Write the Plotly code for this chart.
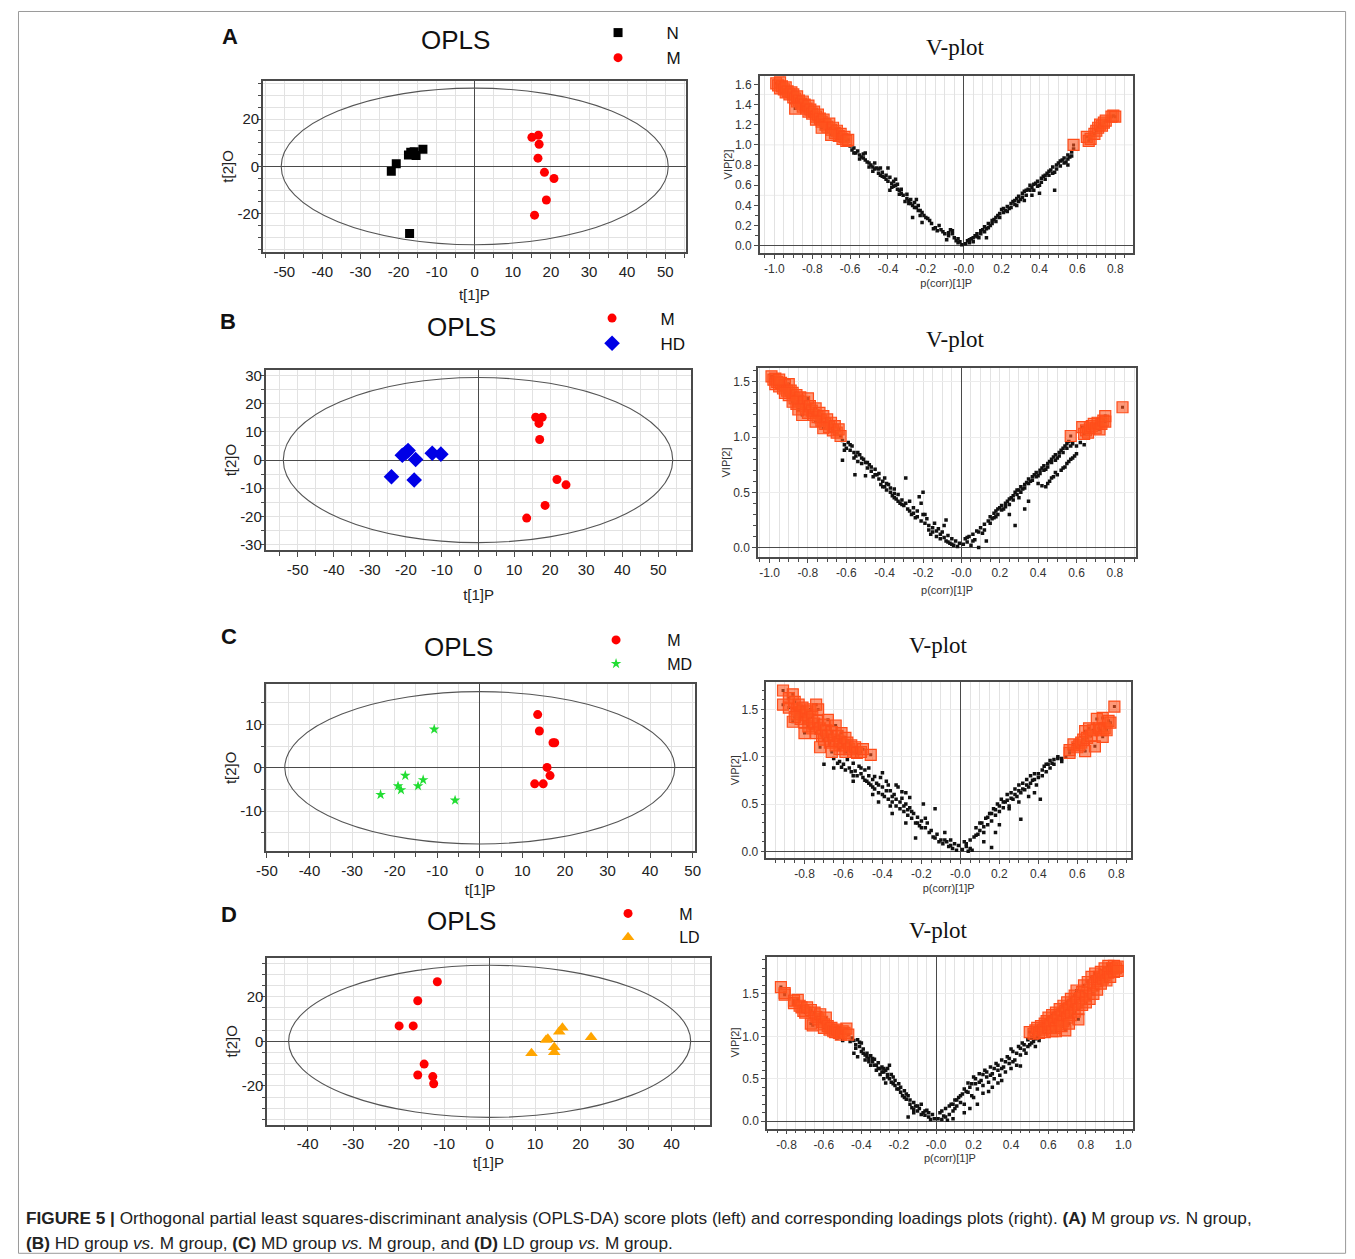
import plotly.graph_objects as go

W, H = 1355, 1259

# ---------------- Score plot data (OPLS) ----------------
A_N_x = [-21.9, -20.6, -17.4, -16.8, -15.9, -15.4, -13.6, -17.1]
A_N_y = [-2.0, 1.1, 4.8, 6.0, 6.2, 4.6, 7.3, -28.4]
A_M_x = [15.0, 16.7, 16.9, 16.6, 18.3, 20.8, 18.8, 15.7]
A_M_y = [12.3, 13.2, 9.4, 3.5, -2.5, -5.1, -14.2, -20.6]

B_M_x = [16.0, 17.8, 16.9, 17.1, 21.9, 24.4, 18.6, 13.5]
B_M_y = [15.2, 15.2, 13.0, 7.3, -6.9, -8.8, -16.1, -20.6]
B_HD_x = [-24.0, -21.0, -20.0, -19.4, -17.3, -17.7, -12.7, -10.3]
B_HD_y = [-5.9, 1.7, 2.6, 3.4, 0.2, -7.1, 2.4, 2.1]

C_M_x = [13.6, 14.0, 17.2, 17.6, 15.8, 16.5, 12.9, 14.9]
C_M_y = [12.3, 8.5, 5.8, 5.8, 0.1, -1.8, -3.7, -3.7]
C_MD_x = [-23.3, -19.2, -18.5, -17.5, -14.5, -13.3, -10.7, -5.8]
C_MD_y = [-6.2, -4.2, -5.1, -1.8, -4.2, -2.8, 8.9, -7.5]

D_M_x = [-19.9, -16.8, -15.8, -11.5, -14.4, -15.8, -12.5, -12.3]
D_M_y = [6.9, 6.9, 18.2, 26.7, -10.2, -15.1, -15.8, -19.0]
D_LD_x = [9.2, 12.4, 12.8, 14.2, 14.2, 15.3, 16.0, 22.3]
D_LD_y = [-5.4, 0.6, 1.2, -2.7, -4.9, 4.3, 6.1, 1.8]

# Hotelling T2 ellipse half-axes (t[1], t[2])
ELLIPSE_A = [50.8, 33.1]
ELLIPSE_B = [54.0, 29.3]
ELLIPSE_C = [45.8, 17.6]
ELLIPSE_D = [44.2, 34.1]

# ---------------- V-plot data: (p(corr)[1]P, VIP[2]) ----------------
VA_SEL = [(-0.99,1.61),(-0.98,1.59),(-0.97,1.62),(-0.97,1.56),(-0.96,1.58),(-0.95,1.55),(-0.94,1.52),
          (-0.94,1.57),(-0.93,1.53),(-0.92,1.50),(-0.91,1.52),(-0.90,1.47),(-0.90,1.50),(-0.89,1.46),
          (-0.88,1.43),(-0.88,1.48),(-0.87,1.44),(-0.86,1.41),(-0.85,1.43),(-0.85,1.38),(-0.84,1.40),
          (-0.83,1.36),(-0.82,1.39),(-0.82,1.33),(-0.81,1.35),(-0.80,1.31),(-0.79,1.33),(-0.78,1.28),
          (-0.78,1.25),(-0.77,1.30),(-0.76,1.26),(-0.75,1.23),(-0.74,1.25),(-0.73,1.20),(-0.72,1.18),
          (-0.71,1.21),(-0.70,1.15),(-0.69,1.17),(-0.68,1.12),(-0.67,1.14),(-0.66,1.09),(-0.65,1.11),
          (-0.64,1.06),(-0.63,1.08),(-0.62,1.04),(-0.61,1.05),(-0.89,1.36),(-0.75,1.17),(-0.70,1.10),
          (0.58,1.00),(0.65,1.08),(0.66,1.04),(0.67,1.06),(0.69,1.11),(0.70,1.14),(0.71,1.17),
          (0.72,1.20),(0.73,1.19),(0.74,1.22),(0.75,1.24),(0.78,1.28),(0.79,1.29),(0.80,1.28)]
VA_REST = [(-0.60,0.99),(-0.59,0.95),(-0.58,0.97),(-0.57,0.92),(-0.56,0.94),(-0.55,0.90),(-0.54,0.88),
           (-0.53,0.91),(-0.52,0.85),(-0.51,0.83),(-0.50,0.82),(-0.49,0.80),(-0.48,0.78),(-0.47,0.76),
           (-0.46,0.77),(-0.45,0.72),(-0.44,0.70),(-0.43,0.73),(-0.42,0.68),(-0.41,0.66),(-0.40,0.64),
           (-0.39,0.68),(-0.38,0.62),(-0.37,0.59),(-0.36,0.60),(-0.35,0.56),(-0.34,0.55),(-0.33,0.52),
           (-0.32,0.50),(-0.30,0.47),(-0.29,0.45),(-0.28,0.42),(-0.27,0.40),(-0.26,0.43),(-0.25,0.38),
           (-0.24,0.35),(-0.23,0.30),(-0.22,0.33),(-0.20,0.28),(-0.18,0.25),(-0.15,0.18),(-0.13,0.20),
           (-0.12,0.16),(-0.10,0.12),(-0.08,0.10),(-0.06,0.15),(-0.05,0.08),(-0.04,0.05),(-0.03,0.03),
           (-0.02,0.04),(-0.01,0.01),(-0.40,0.77),(-0.39,0.55),(-0.25,0.46),(-0.27,0.28),(-0.22,0.23),
           (-0.17,0.22),(-0.16,0.17),(-0.07,0.16),(-0.08,0.13),(-0.44,0.77),(-0.36,0.66),(-0.31,0.44),
           (-0.52,0.92),(-0.47,0.82),
           (0.01,0.02),(0.02,0.05),(0.03,0.03),(0.04,0.07),(0.05,0.04),(0.06,0.10),(0.07,0.12),(0.08,0.08),
           (0.09,0.15),(0.10,0.16),(0.11,0.19),(0.12,0.17),(0.13,0.22),(0.14,0.20),(0.15,0.25),(0.16,0.26),
           (0.17,0.24),(0.18,0.30),(0.19,0.32),(0.20,0.36),(0.21,0.33),(0.22,0.35),(0.23,0.39),(0.24,0.37),
           (0.25,0.42),(0.26,0.44),(0.27,0.41),(0.28,0.47),(0.29,0.49),(0.30,0.46),(0.31,0.52),(0.32,0.54),
           (0.33,0.50),(0.34,0.56),(0.35,0.60),(0.36,0.58),(0.37,0.55),(0.38,0.62),(0.39,0.64),(0.40,0.60),
           (0.41,0.67),(0.42,0.69),(0.43,0.66),(0.44,0.72),(0.45,0.70),(0.46,0.75),(0.47,0.78),(0.48,0.73),
           (0.49,0.80),(0.50,0.82),(0.51,0.79),(0.52,0.85),(0.53,0.87),(0.54,0.83),(0.55,0.90),(0.56,0.88),
           (0.57,0.93),(0.58,0.96),(0.12,0.08),(0.32,0.45),(0.48,0.55),(0.40,0.52),(0.28,0.40),(0.55,0.80),
           (0.36,0.50)]
VA_REST2 = [(-0.58,0.92),(-0.55,0.86),(-0.53,0.87),(-0.50,0.78),(-0.48,0.74),(-0.45,0.76),(-0.43,0.69),
            (-0.41,0.70),(-0.38,0.58),(-0.37,0.64),(-0.35,0.61),(-0.34,0.51),(-0.33,0.56),(-0.30,0.51),
            (-0.29,0.42),(-0.28,0.46),(-0.26,0.38),(-0.24,0.40),(-0.23,0.35),(-0.21,0.30),(-0.19,0.27),
            (-0.14,0.15),(-0.11,0.14),(-0.09,0.06),(-0.06,0.12),(-0.03,0.07),
            (0.03,0.06),(0.05,0.08),(0.07,0.09),(0.09,0.12),(0.11,0.14),(0.13,0.18),(0.15,0.22),(0.17,0.28),
            (0.19,0.28),(0.21,0.37),(0.23,0.34),(0.25,0.38),(0.27,0.45),(0.29,0.44),(0.31,0.48),(0.33,0.55),
            (0.35,0.55),(0.37,0.61),(0.39,0.59),(0.41,0.63),(0.43,0.70),(0.45,0.74),(0.47,0.72),(0.49,0.76),
            (0.51,0.84),(0.53,0.82),(0.55,0.86),(0.57,0.89)]

VB_SEL = [(-0.99,1.55),(-0.98,1.52),(-0.97,1.53),(-0.97,1.48),(-0.96,1.50),(-0.95,1.46),(-0.94,1.49),
          (-0.93,1.44),(-0.92,1.47),(-0.91,1.42),(-0.90,1.48),(-0.90,1.38),(-0.89,1.42),(-0.88,1.40),
          (-0.87,1.35),(-0.86,1.38),(-0.86,1.30),(-0.85,1.33),(-0.84,1.36),(-0.83,1.28),(-0.82,1.32),
          (-0.81,1.25),(-0.80,1.35),(-0.80,1.22),(-0.79,1.28),(-0.78,1.24),(-0.77,1.20),(-0.76,1.26),
          (-0.75,1.18),(-0.74,1.22),(-0.73,1.15),(-0.72,1.19),(-0.71,1.12),(-0.70,1.16),(-0.69,1.09),
          (-0.68,1.13),(-0.67,1.06),(-0.66,1.10),(-0.65,1.04),(-0.64,1.07),(-0.63,1.01),(-0.88,1.32),
          (-0.92,1.40),(-0.83,1.20),(-0.76,1.14),(-0.72,1.08),(-0.95,1.52),(-0.85,1.25),
          (0.57,1.01),(0.63,1.09),(0.64,1.03),(0.65,1.06),(0.66,1.04),(0.67,1.08),(0.68,1.10),(0.69,1.12),
          (0.70,1.08),(0.71,1.13),(0.72,1.07),(0.73,1.12),(0.74,1.15),(0.75,1.19),(0.75,1.14),(0.84,1.27)]
VB_REST = [(-0.62,0.97),(-0.61,0.93),(-0.60,0.90),(-0.59,0.95),(-0.58,0.88),(-0.57,0.92),(-0.56,0.86),
           (-0.55,0.83),(-0.54,0.78),(-0.53,0.84),(-0.52,0.76),(-0.51,0.80),(-0.50,0.77),(-0.49,0.72),
           (-0.48,0.75),(-0.47,0.69),(-0.46,0.64),(-0.45,0.71),(-0.44,0.66),(-0.43,0.62),(-0.42,0.57),
           (-0.41,0.60),(-0.40,0.55),(-0.39,0.52),(-0.38,0.57),(-0.37,0.50),(-0.36,0.47),(-0.35,0.53),
           (-0.34,0.44),(-0.33,0.48),(-0.32,0.40),(-0.31,0.43),(-0.30,0.38),(-0.29,0.63),(-0.28,0.35),
           (-0.27,0.42),(-0.26,0.30),(-0.25,0.36),(-0.24,0.27),(-0.23,0.33),(-0.22,0.46),(-0.21,0.40),
           (-0.20,0.50),(-0.20,0.30),(-0.19,0.22),(-0.18,0.26),(-0.17,0.20),(-0.16,0.12),(-0.15,0.18),
           (-0.14,0.22),(-0.13,0.10),(-0.12,0.17),(-0.11,0.08),(-0.10,0.14),(-0.09,0.20),(-0.08,0.25),
           (-0.08,0.06),(-0.07,0.11),(-0.06,0.04),(-0.05,0.08),(-0.04,0.02),(-0.03,0.06),(-0.02,0.01),
           (-0.01,0.04),(-0.62,0.79),(-0.555,0.66),(-0.40,0.63),(-0.50,0.65),(-0.35,0.45),
           (0.01,0.03),(0.02,0.08),(0.03,0.05),(0.04,0.10),(0.05,0.02),(0.06,0.12),(0.07,0.07),(0.08,0.15),
           (0.09,0.00),(0.10,0.18),(0.11,0.13),(0.12,0.21),(0.13,0.06),(0.14,0.24),(0.15,0.28),(0.16,0.26),
           (0.17,0.31),(0.18,0.33),(0.19,0.30),(0.20,0.36),(0.21,0.38),(0.22,0.35),(0.23,0.40),(0.24,0.42),
           (0.25,0.39),(0.26,0.45),(0.27,0.47),(0.28,0.50),(0.29,0.48),(0.30,0.52),(0.31,0.55),(0.32,0.53),
           (0.33,0.57),(0.34,0.59),(0.35,0.62),(0.36,0.60),(0.37,0.64),(0.38,0.66),(0.39,0.68),(0.40,0.65),
           (0.41,0.70),(0.42,0.72),(0.43,0.74),(0.44,0.71),(0.45,0.76),(0.46,0.78),(0.47,0.80),(0.48,0.82),
           (0.49,0.84),(0.50,0.81),(0.51,0.86),(0.52,0.88),(0.53,0.90),(0.54,0.92),(0.55,0.94),(0.56,0.96),
           (0.58,0.94),(0.60,0.92),(0.62,0.95),(0.64,0.93),
           (0.40,0.58),(0.42,0.56),(0.44,0.55),(0.45,0.58),(0.46,0.60),(0.47,0.63),(0.48,0.64),(0.50,0.66),
           (0.52,0.70),(0.54,0.73),(0.55,0.76),(0.56,0.78),(0.58,0.81),(0.60,0.85),(0.28,0.20),(0.25,0.30),
           (0.30,0.45),(0.35,0.42),(0.33,0.35),(0.18,0.28)]
VB_REST2 = [(-0.61,0.88),(-0.58,0.93),(-0.56,0.81),(-0.54,0.86),(-0.52,0.81),(-0.49,0.77),(-0.47,0.73),
            (-0.45,0.66),(-0.43,0.67),(-0.41,0.55),(-0.39,0.58),(-0.37,0.54),(-0.35,0.49),(-0.33,0.42),
            (-0.31,0.39),(-0.29,0.40),(-0.27,0.33),(-0.25,0.31),(-0.23,0.28),(-0.21,0.24),(-0.19,0.30),
            (-0.17,0.16),(-0.15,0.14),(-0.13,0.15),(-0.11,0.12),(-0.09,0.09),(-0.07,0.05),(-0.05,0.03),
            (0.03,0.09),(0.06,0.06),(0.09,0.14),(0.12,0.16),(0.15,0.22),(0.17,0.27),(0.19,0.35),(0.21,0.34),
            (0.23,0.37),(0.25,0.44),(0.27,0.43),(0.29,0.52),(0.31,0.50),(0.33,0.54),(0.35,0.58),(0.37,0.61),
            (0.39,0.64),(0.41,0.67),(0.43,0.70),(0.45,0.73),(0.47,0.77),(0.49,0.79),(0.51,0.83),(0.53,0.86),
            (0.55,0.90),(0.57,0.92),(0.49,0.68),(0.53,0.72),(0.57,0.80),(0.59,0.83)]

VC_SEL = [(-0.91,1.70),(-0.91,1.55),(-0.88,1.62),(-0.88,1.52),(-0.86,1.66),(-0.86,1.37),(-0.85,1.58),
          (-0.84,1.50),(-0.84,1.45),(-0.83,1.55),(-0.82,1.47),(-0.82,1.40),(-0.81,1.52),(-0.80,1.44),
          (-0.80,1.36),(-0.79,1.48),(-0.78,1.40),(-0.78,1.32),(-0.77,1.50),(-0.76,1.42),(-0.76,1.30),
          (-0.75,1.35),(-0.74,1.55),(-0.74,1.25),(-0.73,1.50),(-0.73,1.38),(-0.72,1.30),(-0.71,1.22),
          (-0.70,1.34),(-0.70,1.18),(-0.69,1.28),(-0.68,1.39),(-0.68,1.22),(-0.67,1.15),(-0.66,1.26),
          (-0.65,1.18),(-0.64,1.33),(-0.64,1.12),(-0.63,1.22),(-0.62,1.08),(-0.62,1.16),(-0.61,1.25),
          (-0.60,1.12),(-0.59,1.05),(-0.59,1.20),(-0.58,1.15),(-0.57,1.08),(-0.56,1.12),(-0.55,1.05),
          (-0.54,1.10),(-0.53,1.04),(-0.51,1.05),(-0.50,1.08),(-0.46,1.02),(-0.72,1.10),(-0.66,1.05),
          (-0.80,1.25),(-0.85,1.42),
          (0.56,1.04),(0.56,1.07),(0.58,1.13),(0.60,1.10),(0.61,1.12),(0.62,1.15),(0.63,1.18),(0.64,1.06),
          (0.64,1.27),(0.65,1.20),(0.66,1.30),(0.67,1.22),(0.68,1.28),(0.69,1.11),(0.70,1.40),(0.71,1.30),
          (0.72,1.28),(0.73,1.41),(0.73,1.21),(0.74,1.30),(0.75,1.28),(0.76,1.38),(0.77,1.36),(0.79,1.53)]
VC_REST = [(-0.65,0.98),(-0.62,0.95),(-0.60,0.92),(-0.58,0.97),(-0.57,0.88),(-0.55,0.93),(-0.54,0.85),
           (-0.52,0.90),(-0.51,0.82),(-0.50,0.78),(-0.49,0.86),(-0.48,0.74),(-0.47,0.80),(-0.46,0.70),
           (-0.45,0.76),(-0.44,0.66),(-0.43,0.72),(-0.42,0.62),(-0.41,0.78),(-0.40,0.68),(-0.39,0.58),
           (-0.38,0.74),(-0.37,0.55),(-0.36,0.64),(-0.35,0.52),(-0.34,0.60),(-0.33,0.48),(-0.32,0.68),
           (-0.31,0.45),(-0.30,0.56),(-0.29,0.42),(-0.28,0.62),(-0.28,0.50),(-0.27,0.38),(-0.26,0.46),
           (-0.25,0.35),(-0.24,0.40),(-0.23,0.30),(-0.22,0.36),(-0.21,0.27),(-0.20,0.32),(-0.19,0.50),
           (-0.18,0.25),(-0.17,0.30),(-0.15,0.22),(-0.14,0.15),(-0.13,0.45),(-0.12,0.18),(-0.10,0.12),
           (-0.09,0.08),(-0.08,0.20),(-0.07,0.10),(-0.06,0.05),(-0.05,0.12),(-0.04,0.03),(-0.03,0.08),
           (-0.02,0.01),(-0.01,0.06),(-0.55,0.80),(-0.45,0.60),(-0.36,0.48),(-0.26,0.57),(-0.30,0.63),
           (-0.33,0.70),(-0.40,0.83),(-0.47,0.88),(-0.42,0.52),(-0.55,0.74),(-0.65,0.88),(-0.70,0.92),
           (-0.23,0.14),(-0.28,0.30),(-0.35,0.40),
           (0.01,0.02),(0.02,0.10),(0.03,0.05),(0.04,0.00),(0.05,0.03),(0.06,0.01),(0.07,0.15),(0.08,0.25),
           (0.09,0.18),(0.10,0.22),(0.11,0.30),(0.12,0.20),(0.13,0.35),(0.14,0.28),(0.15,0.40),(0.16,0.04),
           (0.16,0.32),(0.17,0.45),(0.18,0.38),(0.19,0.50),(0.20,0.42),(0.21,0.55),(0.22,0.46),(0.23,0.52),
           (0.24,0.60),(0.25,0.48),(0.26,0.62),(0.27,0.55),(0.28,0.66),(0.29,0.58),(0.30,0.70),(0.31,0.34),
           (0.31,0.62),(0.32,0.72),(0.33,0.65),(0.34,0.76),(0.35,0.68),(0.36,0.80),(0.37,0.75),(0.38,0.82),
           (0.39,0.70),(0.40,0.78),(0.41,0.55),(0.42,0.86),(0.43,0.90),(0.44,0.84),(0.45,0.92),(0.46,0.96),
           (0.47,0.93),(0.48,0.97),(0.50,0.98),(0.52,0.95),(0.54,1.00),(0.20,0.28),(0.25,0.45),(0.30,0.52),
           (0.12,0.10),(0.18,0.20),(0.35,0.58),(0.38,0.62)]
VC_REST2 = [(-0.63,0.93),(-0.61,0.89),(-0.59,0.86),(-0.56,0.84),(-0.53,0.80),(-0.51,0.88),(-0.49,0.75),
            (-0.47,0.72),(-0.45,0.68),(-0.44,0.79),(-0.42,0.70),(-0.40,0.60),(-0.38,0.64),(-0.37,0.70),
            (-0.35,0.58),(-0.33,0.55),(-0.31,0.52),(-0.29,0.48),(-0.27,0.44),(-0.25,0.42),(-0.22,0.30),
            (-0.20,0.25),(-0.18,0.35),(-0.16,0.20),(-0.13,0.14),(-0.11,0.10),(-0.08,0.12),(-0.05,0.06),
            (0.03,0.08),(0.05,0.12),(0.08,0.17),(0.10,0.30),(0.12,0.26),(0.14,0.36),(0.16,0.40),(0.18,0.44),
            (0.20,0.48),(0.22,0.52),(0.24,0.54),(0.26,0.56),(0.28,0.60),(0.30,0.64),(0.32,0.66),(0.34,0.70),
            (0.36,0.72),(0.38,0.76),(0.40,0.82),(0.42,0.80),(0.44,0.92),(0.46,0.88),(0.48,0.92),(0.50,1.00),
            (0.52,0.98)]

VD_SEL = [(-0.83,1.58),(-0.81,1.51),(-0.81,1.49),(-0.76,1.42),(-0.76,1.39),(-0.74,1.43),(-0.73,1.36),
          (-0.72,1.34),(-0.71,1.30),(-0.70,1.28),(-0.69,1.34),(-0.67,1.31),(-0.67,1.15),(-0.66,1.13),
          (-0.65,1.28),(-0.64,1.23),(-0.63,1.20),(-0.62,1.26),(-0.61,1.17),(-0.60,1.14),(-0.60,1.10),
          (-0.59,1.22),(-0.58,1.12),(-0.57,1.08),(-0.56,1.10),(-0.55,1.06),(-0.54,1.05),(-0.53,1.08),
          (-0.52,1.04),(-0.51,1.02),(-0.50,1.06),(-0.49,1.04),(-0.48,1.09),(-0.47,1.02),
          (0.50,1.05),(0.52,1.03),(0.53,1.07),(0.54,1.10),(0.55,1.04),(0.56,1.12),(0.57,1.08),(0.58,1.15),
          (0.58,1.05),(0.59,1.18),(0.60,1.10),(0.60,1.22),(0.61,1.14),(0.62,1.25),(0.62,1.06),(0.63,1.18),
          (0.64,1.28),(0.64,1.10),(0.65,1.22),(0.66,1.32),(0.66,1.14),(0.67,1.26),(0.68,1.36),(0.68,1.18),
          (0.69,1.30),(0.70,1.40),(0.70,1.22),(0.71,1.33),(0.72,1.44),(0.72,1.25),(0.73,1.37),(0.74,1.48),
          (0.74,1.29),(0.75,1.54),(0.75,1.40),(0.76,1.32),(0.77,1.45),(0.78,1.52),(0.78,1.37),(0.79,1.60),
          (0.80,1.48),(0.80,1.40),(0.81,1.64),(0.82,1.55),(0.82,1.44),(0.83,1.70),(0.84,1.60),(0.84,1.50),
          (0.85,1.74),(0.86,1.65),(0.86,1.55),(0.87,1.70),(0.88,1.62),(0.88,1.76),(0.89,1.68),(0.90,1.80),
          (0.90,1.72),(0.91,1.66),(0.92,1.83),(0.92,1.75),(0.93,1.70),(0.94,1.80),(0.95,1.76),(0.95,1.83),
          (0.96,1.80),(0.97,1.82),(0.97,1.77),(0.76,1.20),(0.69,1.07),(0.64,1.06),(0.67,1.12),(0.71,1.15)]
VD_REST = [(-0.45,0.98),(-0.44,0.95),(-0.43,0.90),(-0.42,0.96),(-0.41,0.88),(-0.40,0.92),(-0.40,0.82),
           (-0.39,0.85),(-0.38,0.78),(-0.37,0.80),(-0.36,0.74),(-0.35,0.77),(-0.34,0.70),(-0.33,0.73),
           (-0.32,0.66),(-0.31,0.69),(-0.30,0.62),(-0.29,0.64),(-0.28,0.58),(-0.27,0.60),(-0.26,0.55),
           (-0.25,0.66),(-0.25,0.50),(-0.24,0.46),(-0.23,0.52),(-0.22,0.42),(-0.21,0.38),(-0.20,0.44),
           (-0.19,0.34),(-0.18,0.30),(-0.17,0.36),(-0.16,0.26),(-0.15,0.30),(-0.14,0.20),(-0.13,0.16),
           (-0.12,0.22),(-0.11,0.18),(-0.10,0.12),(-0.09,0.15),(-0.08,0.20),(-0.07,0.10),(-0.06,0.07),
           (-0.05,0.13),(-0.04,0.05),(-0.03,0.02),(-0.02,0.08),(-0.01,0.03),(-0.53,0.98),(-0.50,0.95),
           (-0.44,0.80),(-0.35,0.66),(-0.30,0.55),(-0.28,0.50),(-0.32,0.60),(-0.27,0.45),(-0.15,0.05),
           (-0.12,0.10),(-0.38,0.72),(-0.42,0.76),(-0.26,0.62),
           (0.01,0.03),(0.02,0.10),(0.03,0.02),(0.04,0.06),(0.05,0.15),(0.06,0.01),(0.07,0.08),(0.08,0.20),
           (0.09,0.12),(0.10,0.25),(0.10,0.15),(0.11,0.18),(0.12,0.28),(0.13,0.22),(0.14,0.32),(0.15,0.20),
           (0.16,0.35),(0.17,0.45),(0.18,0.40),(0.19,0.30),(0.20,0.52),(0.21,0.44),(0.22,0.38),(0.23,0.56),
           (0.24,0.48),(0.25,0.42),(0.26,0.60),(0.27,0.52),(0.28,0.46),(0.29,0.64),(0.30,0.56),(0.31,0.50),
           (0.32,0.68),(0.33,0.60),(0.34,0.54),(0.35,0.72),(0.36,0.64),(0.37,0.58),(0.38,0.76),(0.39,0.68),
           (0.40,0.62),(0.41,0.82),(0.42,0.72),(0.43,0.66),(0.44,0.88),(0.45,0.78),(0.46,0.92),(0.47,0.84),
           (0.48,0.80),(0.49,0.96),(0.50,0.90),(0.51,0.98),(0.52,0.94),(0.53,0.88),(0.54,1.00),(0.55,0.95),
           (0.30,0.40),(0.25,0.33),(0.20,0.28),(0.35,0.48),(0.40,0.85),(0.45,0.65),(0.15,0.10),(0.09,0.03)]
VD_REST2 = [(-0.46,0.94),(-0.43,0.86),(-0.41,0.93),(-0.39,0.80),(-0.37,0.76),(-0.36,0.70),(-0.34,0.74),
            (-0.33,0.66),(-0.31,0.62),(-0.29,0.58),(-0.28,0.62),(-0.26,0.52),(-0.24,0.55),(-0.23,0.44),
            (-0.22,0.48),(-0.20,0.38),(-0.19,0.40),(-0.17,0.28),(-0.16,0.32),(-0.14,0.25),(-0.12,0.14),
            (-0.10,0.18),(-0.08,0.08),(-0.06,0.12),(-0.04,0.10),
            (0.03,0.12),(0.05,0.05),(0.07,0.18),(0.09,0.20),(0.11,0.25),(0.13,0.30),(0.15,0.38),(0.17,0.34),
            (0.19,0.44),(0.21,0.50),(0.23,0.46),(0.25,0.55),(0.27,0.58),(0.29,0.54),(0.31,0.62),(0.33,0.66),
            (0.35,0.62),(0.37,0.70),(0.39,0.74),(0.41,0.70),(0.43,0.80),(0.45,0.86),(0.47,0.90),(0.49,0.88),
            (0.51,0.92),(0.53,0.97),(0.22,0.20),(0.28,0.35),(0.33,0.45),(0.18,0.15)]

# Tick labels
LEFT_XTICKS_AB = [-50, -40, -30, -20, -10, 0, 10, 20, 30, 40, 50]
LEFT_XTICKS_D = [-40, -30, -20, -10, 0, 10, 20, 30, 40]
VA_YTICKS = [0.0, 0.2, 0.4, 0.6, 0.8, 1.0, 1.2, 1.4, 1.6]
V_YTICKS = [0.0, 0.5, 1.0, 1.5]
VAB_XTICKS = [-1.0, -0.8, -0.6, -0.4, -0.2, 0.0, 0.2, 0.4, 0.6, 0.8]
VC_XTICKS = [-0.8, -0.6, -0.4, -0.2, 0.0, 0.2, 0.4, 0.6, 0.8]
VD_XTICKS = [-0.8, -0.6, -0.4, -0.2, 0.0, 0.2, 0.4, 0.6, 0.8, 1.0]

# ---------------- Styling ----------------
SANS = "Liberation Sans, Arial, sans-serif"
SERIF = "Liberation Serif, Times New Roman, serif"
FRAME = "#4a4a4a"
GRID = "#e2e2e2"
SEL_FILL = "rgba(255,85,30,0.6)"
SEL_LINE = "#ff4d1a"

# page-placement correction (target pixel -> figure pixel)
OX, SX, OY, SY = 19.0, 0.9885, 10.5, 0.997

def fx(v):
    return (v - OX) / SX

def fy(v):
    return (v - OY) / SY

def fmt(v):
    return "-0.0" if v == 0 else f"{v:.1f}"

def xdom(a, b):
    return [fx(a) / W, fx(b) / W]

def ydom(top, bottom):
    return [1 - fy(bottom) / H, 1 - fy(top) / H]

fig = go.Figure()
layout = {}
shapes = []

def axname(i):
    return "" if i == 1 else str(i)

def left_axes(i, xd, yd, xr, yr, xt, yt, xstand):
    s = axname(i)
    layout["xaxis" + s] = dict(
        domain=xd, range=xr, anchor="y" + s, tickmode="array", tickvals=xt,
        ticktext=[str(v) for v in xt],
        ticks="outside", ticklen=5, tickcolor=FRAME, showgrid=True, gridcolor=GRID,
        minor=dict(tick0=0, dtick=5, showgrid=True, gridcolor=GRID, ticks="outside",
                   ticklen=4, tickcolor=FRAME),
        zeroline=True, zerolinecolor=FRAME, zerolinewidth=1.3,
        showline=True, mirror=True, linecolor=FRAME, linewidth=1.6,
        tickfont=dict(family=SANS, size=15, color="#222"),
        title=dict(text="t[1]P", font=dict(family=SANS, size=15, color="#222"), standoff=xstand),
    )
    layout["yaxis" + s] = dict(
        domain=yd, range=yr, anchor="x" + s, tickmode="array", tickvals=yt,
        ticktext=[str(v) for v in yt],
        ticks="outside", ticklen=4, tickcolor=FRAME, showgrid=True, gridcolor=GRID,
        minor=dict(tick0=0, dtick=5, showgrid=True, gridcolor=GRID, ticks="outside",
                   ticklen=3, tickcolor=FRAME),
        ticklabelstandoff=-5,
        zeroline=True, zerolinecolor=FRAME, zerolinewidth=1.3,
        showline=True, mirror=True, linecolor=FRAME, linewidth=1.6,
        tickfont=dict(family=SANS, size=15, color="#222"),
        title=dict(text="t[2]O", font=dict(family=SANS, size=15, color="#222"), standoff=0),
    )

def right_axes(i, xd, yd, xr, yr, xt, yt, ygrid, xstand):
    s = axname(i)
    layout["xaxis" + s] = dict(
        domain=xd, range=xr, anchor="y" + s, tickmode="array", tickvals=xt,
        ticktext=[fmt(v) for v in xt],
        ticks="outside", ticklen=4, tickcolor=FRAME, showgrid=True, gridcolor=GRID,
        minor=dict(tick0=0, dtick=0.05, showgrid=True, gridcolor=GRID, ticks="outside",
                   ticklen=3, tickcolor=FRAME),
        zeroline=True, zerolinecolor=FRAME, zerolinewidth=1.3,
        showline=True, mirror=True, linecolor=FRAME, linewidth=1.6,
        tickfont=dict(family=SANS, size=12, color="#333"),
        title=dict(text="p(corr)[1]P", font=dict(family=SANS, size=11, color="#333"), standoff=xstand),
    )
    layout["yaxis" + s] = dict(
        domain=yd, range=yr, anchor="x" + s, tickmode="array", tickvals=yt,
        ticktext=[f"{v:.1f}" for v in yt],
        ticks="outside", ticklen=4, tickcolor=FRAME, showgrid=ygrid, gridcolor="#ececec",
        minor=dict(tick0=0, dtick=0.1, showgrid=False, ticks="outside", ticklen=3, tickcolor=FRAME),
        zeroline=True, zerolinecolor=FRAME, zerolinewidth=1.3,
        showline=True, mirror=True, linecolor=FRAME, linewidth=1.6,
        tickfont=dict(family=SANS, size=12, color="#333"),
        title=dict(text="VIP[2]", font=dict(family=SANS, size=11, color="#333"), standoff=0),
    )

def ellipse(i, ab):
    s = axname(i)
    shapes.append(dict(type="circle", xref="x" + s, yref="y" + s, x0=-ab[0], x1=ab[0],
                       y0=-ab[1], y1=ab[1], line=dict(color="#555", width=1.1), layer="between"))

def score(i, xs, ys, name, symbol, color, size, legend):
    s = axname(i)
    fig.add_trace(go.Scatter(x=xs, y=ys, mode="markers", name=name, xaxis="x" + s, yaxis="y" + s,
                             legend=legend,
                             marker=dict(symbol=symbol, color=color, size=size, line=dict(width=0))))

def vplot(i, sel, rest):
    s = axname(i)
    fig.add_trace(go.Scatter(x=[p[0] for p in rest], y=[p[1] for p in rest], mode="markers",
                             xaxis="x" + s, yaxis="y" + s, showlegend=False,
                             marker=dict(symbol="square", color="#111", size=3.5, line=dict(width=0))))
    fig.add_trace(go.Scatter(x=[p[0] for p in sel], y=[p[1] for p in sel], mode="markers",
                             xaxis="x" + s, yaxis="y" + s, showlegend=False,
                             marker=dict(symbol="square", color="#111", size=3, line=dict(width=0))))
    fig.add_trace(go.Scatter(x=[p[0] for p in sel], y=[p[1] for p in sel], mode="markers",
                             xaxis="x" + s, yaxis="y" + s, showlegend=False,
                             marker=dict(symbol="square", color=SEL_FILL, size=11,
                                         line=dict(color=SEL_LINE, width=1.2))))

PAD6 = "\u00a0" * 6
PAD7 = "\u00a0" * 7

# Panel A
left_axes(1, xdom(264, 687), ydom(80.7, 251.7), [-55.6, 55.4], [-36.1, 36.1], LEFT_XTICKS_AB, [-20, 0, 20], 11)
ellipse(1, ELLIPSE_A)
score(1, A_N_x, A_N_y, PAD6 + "N", "square", "#000000", 9, "legend")
score(1, A_M_x, A_M_y, PAD6 + "M", "circle", "#ff0000", 9, "legend")
right_axes(2, xdom(761, 1134), ydom(75.7, 252.7), [-1.077, 0.892], [-0.069, 1.682], VAB_XTICKS, VA_YTICKS, False, 4)
for lv in [0.5, 1.0, 1.5]:
    shapes.append(dict(type="line", xref="x2 domain", yref="y2", x0=0, x1=1, y0=lv, y1=lv,
                       line=dict(color="#ececec", width=1), layer="below"))
vplot(2, VA_SEL, VA_REST + VA_REST2)

# Panel B
left_axes(3, xdom(266.7, 692.7), ydom(370, 550.7), [-58.9, 59.2], [-32, 32], LEFT_XTICKS_AB, [-30, -20, -10, 0, 10, 20, 30], 12)
ellipse(3, ELLIPSE_B)
score(3, B_M_x, B_M_y, PAD6 + "M", "circle", "#ff0000", 9, "legend2")
score(3, B_HD_x, B_HD_y, PAD6 + "HD", "diamond", "#0000e6", 12, "legend2")
right_axes(4, xdom(759.3, 1137.3), ydom(368.3, 557.3), [-1.06, 0.91], [-0.084, 1.624], VAB_XTICKS, V_YTICKS, True, 7)
vplot(4, VB_SEL, VB_REST + VB_REST2)

# Panel C
left_axes(5, xdom(266.7, 696), ydom(685, 852.3), [-50.3, 50.5], [-19.3, 19.3], LEFT_XTICKS_AB, [-10, 0, 10], 6)
ellipse(5, ELLIPSE_C)
score(5, C_M_x, C_M_y, PAD7 + "M", "circle", "#ff0000", 9, "legend3")
score(5, C_MD_x, C_MD_y, PAD7 + "MD", "star", "#22dd33", 8, "legend3")
right_axes(6, xdom(767.7, 1132.3), ydom(682.7, 859.3), [-0.995, 0.875], [-0.074, 1.79], VC_XTICKS, V_YTICKS, True, 4)
vplot(6, VC_SEL, VC_REST + VC_REST2)

# Panel D
left_axes(7, xdom(268.3, 711), ydom(959.3, 1126), [-48.9, 48.4], [-37.3, 37.3], LEFT_XTICKS_D, [-20, 0, 20], 6)
ellipse(7, ELLIPSE_D)
score(7, D_M_x, D_M_y, PAD7 + "M", "circle", "#ff0000", 9, "legend4")
score(7, D_LD_x, D_LD_y, PAD7 + "LD", "triangle-up", "#ffa500", 11, "legend4")
right_axes(8, xdom(768.3, 1134), ydom(957.7, 1130), [-0.904, 1.05], [-0.086, 1.94], VD_XTICKS, V_YTICKS, True, 4)
vplot(8, VD_SEL, VD_REST + VD_REST2)

# legends: (marker centre x, first item centre y) in target pixels
def leg(mx, cy, size):
    return dict(x=(fx(mx) - 20) / W, y=1 - (fy(cy) - size * 1.03) / H, xanchor="left", yanchor="top",
                font=dict(family=SANS, size=size, color="#111"), bgcolor="rgba(0,0,0,0)",
                itemwidth=30, tracegroupgap=0, itemclick=False)

layout["legend"] = leg(619, 32, 17)
layout["legend2"] = leg(613, 318, 17)
layout["legend3"] = leg(617, 640, 16)
layout["legend4"] = leg(629, 914, 16)

annotations = []
def text(xpx, ypx, t, size, family=SANS, bold=False):
    annotations.append(dict(x=fx(xpx) / W, y=1 - fy(ypx) / H, xref="paper", yref="paper", showarrow=False,
                            text=("<b>%s</b>" % t) if bold else t, xanchor="center", yanchor="middle",
                            font=dict(family=family, size=size, color="#111")))

for lab, (x, y) in {"A": (231, 36), "B": (229, 322), "C": (230, 637), "D": (230, 916)}.items():
    text(x, y, lab, 22, bold=True)
for (x, y) in [(457, 40), (463, 327), (460, 648), (463, 922)]:
    text(x, y, "OPLS", 26)
for (x, y) in [(957, 47), (957, 340), (940, 646), (940, 932)]:
    text(x, y, "V-plot", 23, family=SERIF)

CAP = "Liberation Sans Narrow, Arial Narrow, Liberation Sans, sans-serif"
annotations.append(dict(x=fx(25) / W, y=1 - fy(1220) / H, xref="paper", yref="paper", showarrow=False,
                        xanchor="left", yanchor="middle", align="left",
                        font=dict(family=CAP, size=17.2, color="#222"),
                        text="<b>FIGURE 5 |</b> Orthogonal partial least squares-discriminant analysis (OPLS-DA) score plots (left) "
                             "and corresponding loadings plots (right). <b>(A)</b> M group <i>vs.</i> N group,"))
annotations.append(dict(x=fx(25) / W, y=1 - fy(1245) / H, xref="paper", yref="paper", showarrow=False,
                        xanchor="left", yanchor="middle", align="left",
                        font=dict(family=CAP, size=17.2, color="#222"),
                        text="<b>(B)</b> HD group <i>vs.</i> M group, <b>(C)</b> MD group <i>vs.</i> M group, and "
                             "<b>(D)</b> LD group <i>vs.</i> M group."))

shapes.append(dict(type="rect", xref="paper", yref="paper", x0=0.5 / W, x1=fx(1347) / W,
                   y0=1 - fy(1255) / H, y1=1 - 0.5 / H,
                   line=dict(color="#9a9a9a", width=1), layer="below"))

layout.update(dict(width=W, height=H, margin=dict(l=0, r=0, t=0, b=0),
                   paper_bgcolor="white", plot_bgcolor="white",
                   shapes=shapes, annotations=annotations))
fig.update_layout(**layout)
fig.write_html("out.html")
